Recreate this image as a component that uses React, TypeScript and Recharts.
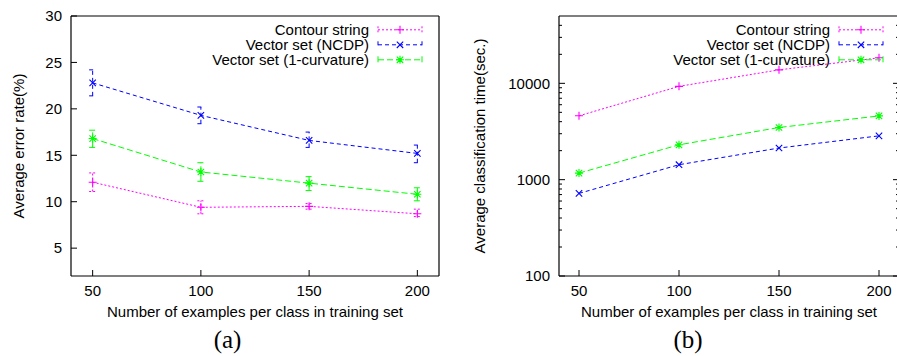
import { LineChart, Line, XAxis, YAxis, ErrorBar, Legend, Label } from 'recharts';

const examples = [50, 100, 150, 200];
const xTicks = [50, 100, 150, 200];

// (a) average error rate (%), with error bar bounds
const contourRate = [12.1, 9.4, 9.5, 8.7];
const contourRateLo = [11.1, 8.7, 9.2, 8.4];
const contourRateHi = [13.1, 10.1, 9.8, 9.2];
const ncdpRate = [22.8, 19.3, 16.6, 15.2];
const ncdpRateLo = [21.4, 18.4, 15.85, 14.2];
const ncdpRateHi = [24.2, 20.2, 17.5, 16.1];
const curvRate = [16.8, 13.2, 12.0, 10.8];
const curvRateLo = [15.85, 12.2, 11.2, 10.1];
const curvRateHi = [17.7, 14.2, 12.7, 11.5];
const rateTicks = [5, 10, 15, 20, 25, 30];

// (b) average classification time (sec.)
const contourTime = [4600, 9300, 13800, 18400];
const ncdpTime = [720, 1430, 2130, 2850];
const curvTime = [1170, 2300, 3480, 4590];
const timeTicks = [100, 1000, 10000];
const timeMinorTicks = [200, 300, 400, 500, 600, 700, 800, 900, 2000, 3000, 4000, 5000, 6000, 7000, 8000, 9000, 20000, 30000, 40000];

type Shape = 'plus' | 'cross' | 'star';

const SERIES: { key: string; name: string; color: string; dash: string; shape: Shape }[] = [
    { key: 'contour', name: 'Contour string', color: '#ff00ff', dash: '2 2', shape: 'plus' },
    { key: 'ncdp', name: 'Vector set (NCDP)', color: '#0000ff', dash: '4 3', shape: 'cross' },
    { key: 'curv', name: 'Vector set (1-curvature)', color: '#00ff00', dash: '6 3', shape: 'star' },
];

const FONT = '"Liberation Sans", Arial, Helvetica, sans-serif';
const FS = 15;

const rateData = examples.map((n, i) => ({
    n,
    contour: contourRate[i],
    contourErr: [contourRate[i] - contourRateLo[i], contourRateHi[i] - contourRate[i]],
    ncdp: ncdpRate[i],
    ncdpErr: [ncdpRate[i] - ncdpRateLo[i], ncdpRateHi[i] - ncdpRate[i]],
    curv: curvRate[i],
    curvErr: [curvRate[i] - curvRateLo[i], curvRateHi[i] - curvRate[i]],
}));

const timeData = examples.map((n, i) => ({
    n,
    contour: contourTime[i],
    ncdp: ncdpTime[i],
    curv: curvTime[i],
}));

function Marker({ cx, cy, shape, color }: { cx: number; cy: number; shape: Shape; color: string }) {
    const p = 4;
    const c = 3.2;
    let d = '';
    if (shape === 'plus' || shape === 'star') d += `M${cx - p},${cy}H${cx + p}M${cx},${cy - p}V${cy + p}`;
    if (shape === 'cross' || shape === 'star') d += `M${cx - c},${cy - c}L${cx + c},${cy + c}M${cx - c},${cy + c}L${cx + c},${cy - c}`;
    return <path d={d} stroke={color} strokeWidth={1.1} fill="none" />;
}

const makeDot = (shape: Shape, color: string) => (props: any) => (
    <Marker key={`${shape}-${props.index}`} cx={props.cx} cy={props.cy} shape={shape} color={color} />
);

// gnuplot style key, placed inside the top right of the plot
const makeLegend = (right: number) => () => (
    <svg width={450} height={70} style={{ display: 'block', overflow: 'visible' }}>
        {SERIES.map((s, i) => {
            const y = 29.8 + i * 15;
            const x0 = right - 61;
            const x1 = right - 17;
            return (
                <g key={s.key}>
                    <text x={right - 70} y={y} dy="0.36em" textAnchor="end" fontSize={FS} fontFamily={FONT} fill="#000">
                        {s.name}
                    </text>
                    <line x1={x0} x2={x1} y1={y} y2={y} stroke={s.color} strokeDasharray={s.dash} />
                    <line x1={x0} x2={x0} y1={y - 3.5} y2={y + 3.5} stroke={s.color} strokeDasharray={s.dash} />
                    <line x1={x1} x2={x1} y1={y - 3.5} y2={y + 3.5} stroke={s.color} strokeDasharray={s.dash} />
                    <Marker cx={(x0 + x1) / 2} cy={y} shape={s.shape} color={s.color} />
                </g>
            );
        })}
    </svg>
);

const yTitle = (text: string, dx: number) => (props: any) => {
    const vb = props.viewBox;
    const x = vb.x + dx;
    const y = vb.y + vb.height / 2;
    return (
        <text x={x} y={y} transform={`rotate(-90 ${x} ${y})`} textAnchor="middle" dominantBaseline="central" fontSize={FS} fontFamily={FONT} fill="#000">
            {text}
        </text>
    );
};

const xTitle = (text: string, captionX: number, caption: string) => (props: any) => {
    const vb = props.viewBox;
    return (
        <g>
            <text x={vb.x + vb.width / 2} y={vb.y + 41} textAnchor="middle" fontSize={FS} fontFamily={FONT} fill="#000">
                {text}
            </text>
            <text x={captionX} y={vb.y + 72} textAnchor="middle" fontSize={25} fontFamily='"Liberation Serif", "DejaVu Serif", serif' fill="#000">
                {caption}
            </text>
        </g>
    );
};

// log axis ticks: major ticks labelled, minor ticks shorter
const logTick = (side: 'left' | 'right', margin: number) => (p: any) => {
    const v = p.payload.value;
    const major = timeTicks.includes(v);
    const len = major ? 6 : 3;
    if (side === 'left') {
        const ax = p.x + margin;
        return (
            <g>
                <line x1={ax} x2={ax + len} y1={p.y} y2={p.y} stroke="#000" />
                {major && (
                    <text x={p.x} y={p.y} dy="0.36em" textAnchor="end" fontSize={FS} fontFamily={FONT} fill="#000">
                        {v}
                    </text>
                )}
            </g>
        );
    }
    return <line x1={p.x} x2={p.x - len} y1={p.y} y2={p.y} stroke="#000" />;
};

const axisProps = {
    axisLine: { stroke: '#000', strokeWidth: 1.2 },
    tickLine: { stroke: '#000' },
    tick: { fill: '#000', fontSize: FS, fontFamily: FONT },
};

function ErrorRateChart() {
    return (
        <LineChart width={450} height={356} data={rateData} margin={{ top: 15, right: 10, bottom: 0, left: 0 }}>
            <XAxis dataKey="n" type="number" domain={[40, 210]} ticks={xTicks} interval={0} tickSize={-6} tickMargin={15} height={80} {...axisProps}>
                <Label content={xTitle('Number of examples per class in training set', 227.5, '(a)')} />
            </XAxis>
            <XAxis xAxisId="top" orientation="top" type="number" domain={[40, 210]} ticks={xTicks} interval={0} tickSize={-6} tick={false} height={1} axisLine={axisProps.axisLine} tickLine={axisProps.tickLine} />
            <YAxis type="number" domain={[2, 30]} ticks={rateTicks} interval={0} tickSize={-6} tickMargin={15} width={71} {...axisProps}>
                <Label content={yTitle('Average error rate(%)', 18)} />
            </YAxis>
            <YAxis yAxisId="right" orientation="right" type="number" domain={[2, 30]} ticks={rateTicks} interval={0} tickSize={-6} tick={false} width={1} axisLine={axisProps.axisLine} tickLine={axisProps.tickLine} />
            <Legend layout="horizontal" verticalAlign="middle" align="center" content={makeLegend(439)} wrapperStyle={{ left: 0, top: 0, width: 450, height: 70 }} />
            {SERIES.map((s) => (
                <Line
                    key={s.key}
                    type="linear"
                    dataKey={s.key}
                    name={s.name}
                    stroke={s.color}
                    strokeWidth={1}
                    strokeDasharray={s.dash}
                    dot={makeDot(s.shape, s.color)}
                    activeDot={false}
                    isAnimationActive={false}
                >
                    <ErrorBar dataKey={`${s.key}Err`} width={3.5} stroke={s.color} strokeWidth={1} strokeDasharray={s.dash} isAnimationActive={false} />
                </Line>
            ))}
        </LineChart>
    );
}

function TimeChart() {
    const allTicks = [...timeTicks, ...timeMinorTicks];
    return (
        <LineChart width={450} height={356} data={timeData} margin={{ top: 15, right: 0, bottom: 0, left: 0 }}>
            <XAxis dataKey="n" type="number" domain={[40, 210]} ticks={xTicks} interval={0} tickSize={-6} tickMargin={15} height={80} {...axisProps}>
                <Label content={xTitle('Number of examples per class in training set', 238, '(b)')} />
            </XAxis>
            <XAxis xAxisId="top" orientation="top" type="number" domain={[40, 210]} ticks={xTicks} interval={0} tickSize={-6} tick={false} height={1} axisLine={axisProps.axisLine} tickLine={axisProps.tickLine} />
            <YAxis type="number" scale="log" domain={[100, 50000]} ticks={allTicks} interval={0} tickSize={0} tickMargin={9} tickLine={false} tick={logTick('left', 9)} width={109} axisLine={axisProps.axisLine} allowDataOverflow>
                <Label content={yTitle('Average classification time(sec.)', 29)} />
            </YAxis>
            <YAxis yAxisId="right" orientation="right" type="number" scale="log" domain={[100, 50000]} ticks={allTicks} interval={0} tickSize={0} tickMargin={0} tickLine={false} tick={logTick('right', 0)} width={1} axisLine={axisProps.axisLine} allowDataOverflow />
            <Legend layout="horizontal" verticalAlign="middle" align="center" content={makeLegend(450)} wrapperStyle={{ left: 0, top: 0, width: 450, height: 70 }} />
            {SERIES.map((s) => (
                <Line
                    key={s.key}
                    type="linear"
                    dataKey={s.key}
                    name={s.name}
                    stroke={s.color}
                    strokeWidth={1}
                    strokeDasharray={s.dash}
                    dot={makeDot(s.shape, s.color)}
                    activeDot={false}
                    isAnimationActive={false}
                />
            ))}
        </LineChart>
    );
}

export default function App() {
    return (
        <div style={{ position: 'absolute', left: 0, top: 0, width: 897, height: 356, overflow: 'hidden', background: '#fff' }}>
            <div style={{ position: 'absolute', left: 0, top: 0 }}>
                <ErrorRateChart />
            </div>
            <div style={{ position: 'absolute', left: 450, top: 0 }}>
                <TimeChart />
            </div>
        </div>
    );
}
